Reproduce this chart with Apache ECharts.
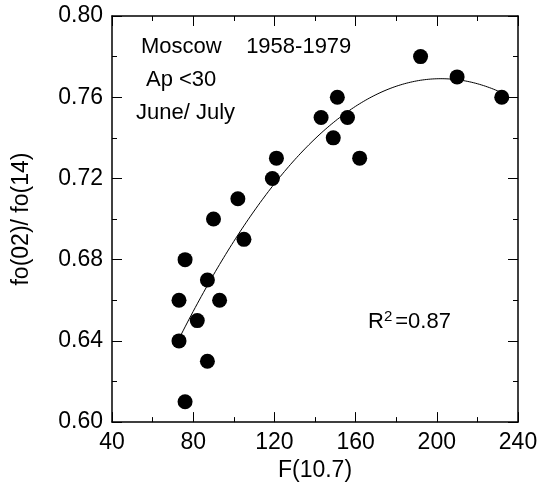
<!DOCTYPE html>
<html>
<head>
<meta charset="utf-8">
<script src="https://cdn.jsdelivr.net/npm/echarts@6/dist/echarts.min.js"></script>
<style>
    html, body { margin: 0; padding: 0; background: #fff; }
    #main { width: 547px; height: 487px; }
</style>
</head>
<body>
<div id="main"></div>
<script type="text/javascript">
    // F(10.7) values and fo(02)/fo(14) ratio
    var fluxValues = [73, 73, 76, 76, 82, 87, 87, 90, 93, 102, 105, 119, 121, 143, 149, 151, 156, 162, 192, 210, 232];
    var ratioValues = [0.64, 0.66, 0.68, 0.61, 0.65, 0.67, 0.63, 0.70, 0.66, 0.71, 0.69, 0.72, 0.73, 0.75, 0.74, 0.76, 0.75, 0.73, 0.78, 0.77, 0.76];
    var xTicks = [40, 80, 120, 160, 200, 240];
    var yTicks = [0.60, 0.64, 0.68, 0.72, 0.76, 0.80];

    var points = [];
    for (var i = 0; i < fluxValues.length; i++) {
        points.push([fluxValues[i], ratioValues[i]]);
    }

    // quadratic least squares fit, like the original trend line
    function quadFit(xs, ys) {
        var s = [0, 0, 0, 0, 0], t = [0, 0, 0];
        for (var i = 0; i < xs.length; i++) {
            var p = 1;
            for (var k = 0; k < 5; k++) { s[k] += p; if (k < 3) t[k] += ys[i] * p; p *= xs[i]; }
        }
        var m = [[s[0], s[1], s[2], t[0]], [s[1], s[2], s[3], t[1]], [s[2], s[3], s[4], t[2]]];
        for (var c = 0; c < 3; c++) {
            for (var r = c + 1; r < 3; r++) {
                var f = m[r][c] / m[c][c];
                for (var j = c; j < 4; j++) m[r][j] -= f * m[c][j];
            }
        }
        var b = [0, 0, 0];
        for (var r2 = 2; r2 >= 0; r2--) {
            var v = m[r2][3];
            for (var j2 = r2 + 1; j2 < 3; j2++) v -= m[r2][j2] * b[j2];
            b[r2] = v / m[r2][r2];
        }
        return b;
    }
    var coef = quadFit(fluxValues, ratioValues);
    var xMin = Math.min.apply(null, fluxValues), xMax = Math.max.apply(null, fluxValues);
    var fitLine = [];
    for (var x = xMin; x <= xMax; x += 1) {
        fitLine.push([x, coef[0] + coef[1] * x + coef[2] * x * x]);
    }

    var font = 'Arial, "Liberation Sans", sans-serif';
    var axisLine = { show: true, onZero: false, lineStyle: { color: '#000', width: 1.5 } };
    var tick = { show: true, inside: true, length: 10, lineStyle: { color: '#000', width: 1 } };
    var minor = { show: true, splitNumber: 2, length: 5, lineStyle: { color: '#000', width: 1 } };

    var myChart = echarts.init(document.getElementById('main'));
    myChart.setOption({
        animation: false,
        backgroundColor: '#fff',
        grid: { left: 112, top: 16, right: 29, bottom: 64 },
        xAxis: [{
            type: 'value', min: xTicks[0], max: xTicks[xTicks.length - 1], interval: 40,
            name: 'F(10.7)', nameLocation: 'middle', nameGap: 33,
            nameTextStyle: { color: '#000', fontSize: 23, fontFamily: font },
            axisLine: axisLine, axisTick: tick, minorTick: minor,
            axisLabel: { color: '#000', fontSize: 23, fontFamily: font, margin: 9 },
            splitLine: { show: false }
        }, {
            type: 'value', position: 'top', min: xTicks[0], max: xTicks[xTicks.length - 1], interval: 40,
            axisLine: axisLine, axisTick: tick, minorTick: minor,
            axisLabel: { show: false }, splitLine: { show: false }
        }],
        yAxis: [{
            type: 'value', min: yTicks[0], max: yTicks[yTicks.length - 1], interval: 0.04,
            name: 'fo(02)/ fo(14)', nameLocation: 'middle', nameGap: 79,
            nameTextStyle: { color: '#000', fontSize: 23, fontFamily: font },
            axisLine: axisLine, axisTick: tick, minorTick: minor,
            axisLabel: { color: '#000', fontSize: 23, fontFamily: font, margin: 9,
                formatter: function (v) { return v.toFixed(2); } },
            splitLine: { show: false }
        }, {
            type: 'value', position: 'right', min: yTicks[0], max: yTicks[yTicks.length - 1], interval: 0.04,
            axisLine: axisLine, axisTick: tick, minorTick: minor,
            axisLabel: { show: false }, splitLine: { show: false }
        }],
        series: [{
            type: 'line',
            data: fitLine,
            showSymbol: false,
            lineStyle: { color: '#000', width: 1 },
            z: 2
        }, {
            type: 'scatter',
            data: points,
            symbol: 'circle',
            symbolSize: 15,
            itemStyle: { color: '#000', opacity: 1 },
            z: 3
        }],
        graphic: [
            { type: 'text', left: 141, top: 36, style: { text: 'Moscow    1958-1979', font: '22px ' + font, fill: '#000' } },
            { type: 'text', left: 146, top: 69, style: { text: 'Ap <30', font: '22px ' + font, fill: '#000' } },
            { type: 'text', left: 136, top: 102, style: { text: 'June/ July', font: '22px ' + font, fill: '#000' } },
            { type: 'text', left: 368, top: 309, style: {
                text: '{a|R}{s|2}{a|=0.87}',
                rich: {
                    a: { font: '22px ' + font, fill: '#000', verticalAlign: 'bottom' },
                    s: { font: '15px ' + font, fill: '#000', verticalAlign: 'top', padding: [0, 3, 9, 0] }
                }
            } }
        ]
    });
</script>
</body>
</html>
